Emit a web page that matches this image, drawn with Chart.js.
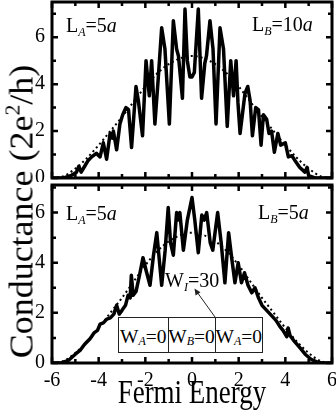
<!DOCTYPE html>
<html>
<head>
<meta charset="utf-8">
<title>Conductance vs Fermi Energy</title>
<script src="https://cdn.jsdelivr.net/npm/chart.js@4.4.1/dist/chart.umd.min.js"></script>
<style>
  body { margin:0; width:336px; height:415px; position:relative; background:#fff; overflow:hidden;
         font-family:'Liberation Serif', 'Times New Roman', serif; color:#000; }
  canvas { position:absolute; left:0; }
  #c1 { top:0; }
  #c2 { top:181px; }
  .lab { position:absolute; font-size:20px; line-height:1; white-space:nowrap; }
  .s { font-size:12px; font-style:italic; position:relative; top:4px; }
  #ytitle { position:absolute; left:-128px; top:195px; width:300px; height:33px; font-size:33px; line-height:1;
            text-align:center; white-space:nowrap; transform:rotate(-90deg) scale(1.09,1); }
  #ytitle sup { font-size:20px; vertical-align:baseline; position:relative; top:-13px; }
  #xtitle { position:absolute; left:42px; top:379px; width:300px; font-size:27px; line-height:1;
            text-align:center; white-space:nowrap; transform:scale(1,1.22); }
  #box { position:absolute; left:118px; top:317px; width:145px; height:36px; border:1.5px solid #222;
         box-sizing:border-box; display:flex; background:#fff; }
  #box div { display:flex; align-items:center; justify-content:center; padding-top:4px; box-sizing:border-box;
             font-size:19.5px; line-height:1; white-space:nowrap; }
  #box div + div { border-left:1.5px solid #222; }
  #arrow { position:absolute; left:0; top:0; }
</style>
</head>
<body>

<canvas id="c1" width="346" height="182"></canvas>
<canvas id="c2" width="346" height="234"></canvas>

<!-- labels -->
<div id="ytitle">Conductance (2e<sup>2</sup>/h)</div>
<div id="xtitle">Fermi Energy</div>

<div class="lab" style="left:66px; top:15px;">L<span class="s">A</span>=5<i>a</i></div>
<div class="lab" style="left:252px; top:14px;">L<span class="s">B</span>=10<i>a</i></div>
<div class="lab" style="left:66px; top:203px;">L<span class="s">A</span>=5<i>a</i></div>
<div class="lab" style="left:258px; top:202px;">L<span class="s">B</span>=5<i>a</i></div>
<div class="lab" style="left:165px; top:270px;">W<span class="s">I</span>=30</div>

<svg id="arrow" width="336" height="415">
  <line x1="215" y1="317" x2="197" y2="292" stroke="#222" stroke-width="1"/>
  <polygon points="194.5,288.5 200.5,292.3 195.6,295.4" fill="#222"/>
</svg>

<div id="box">
  <div style="width:50px">W<span class="s">A</span>=0</div>
  <div style="width:47px">W<span class="s">B</span>=0</div>
  <div style="width:48px">W<span class="s">A</span>=0</div>
</div>

<script>
// top panel, L_B = 10a
const topE = [-6.0,-5.5,-5.2,-4.95,-4.85,-4.75,-4.6,-4.45,-4.3,-4.1,-3.94,-3.8,-3.66,-3.51,-3.42,-3.37,-3.23,-3.09,-2.97,-2.83,-2.72,-2.59,-2.4,-2.3,-2.12,-1.97,-1.83,-1.73,-1.59,-1.45,-1.3,-1.16,-0.97,-0.8,-0.66,-0.58,-0.41,-0.3,-0.2,-0.09,0,0.1,0.27,0.41,0.55,0.62,0.77,0.9,1.03,1.2,1.35,1.51,1.66,1.78,1.89,1.97,2.06,2.27,2.39,2.49,2.59,2.73,2.85,2.96,3.06,3.2,3.3,3.41,3.53,3.68,3.8,4.0,4.13,4.28,4.41,4.62,4.84,4.93,5.0,5.27,6.0];
const topG = [0,0,0.1,0.25,0.5,0.25,0.5,0.75,0.9,1.05,0.9,1.5,0.8,1.9,1.7,2.0,1.2,2.3,2.7,3.0,2.9,1.3,3.9,3.3,1.8,5.0,3.5,5.0,2.3,4.2,6.4,5.5,2.3,6.7,5.5,5.2,3.4,7.2,5.0,4.3,4.3,4.5,7.2,3.4,4.9,5.2,6.7,5.5,2.3,6.4,5.5,2.2,5.0,3.5,5.0,3.2,1.9,3.6,3.9,3.3,1.8,3.0,2.9,1.4,2.7,2.5,1.9,2.0,1.1,1.9,1.4,1.5,0.9,0.95,0.75,0.45,0.25,0.45,0.1,0,0];

// bottom panel, L_B = 5a
const botE = [-6,-5.6,-5.3,-5.0,-4.8,-4.6,-4.37,-4.2,-4.05,-3.94,-3.8,-3.65,-3.5,-3.35,-3.23,-3.12,-3.0,-2.85,-2.74,-2.65,-2.6,-2.52,-2.4,-2.25,-2.1,-1.97,-1.8,-1.65,-1.51,-1.4,-1.3,-1.15,-1.02,-0.92,-0.8,-0.66,-0.6,-0.52,-0.37,-0.2,0,0.12,0.27,0.42,0.52,0.63,0.78,0.89,1.1,1.25,1.41,1.57,1.7,1.84,1.98,2.12,2.25,2.4,2.56,2.7,2.85,3.0,3.2,3.4,3.6,3.77,3.9,4.06,4.12,4.2,4.4,4.63,4.85,5.1,5.4,5.6,6];
const botG = [0,0,0.1,0.35,0.5,0.75,0.97,1.2,1.3,1.55,1.6,1.75,1.8,1.95,2.3,1.95,2.1,2.3,2.7,2.6,3.5,2.7,2.85,3.5,4.2,3.7,3.1,4.3,5.2,4.1,3.1,4.5,6.2,4.8,4.3,6.0,5.7,6.0,4.5,5.7,6.6,5.7,4.4,5.9,5.7,6.0,4.8,4.5,6.0,4.8,3.2,5.2,4.2,3.2,4.0,3.2,3.6,3.1,2.8,3.0,2.6,2.3,2.1,1.9,1.7,1.45,1.3,1.05,1.4,1.1,0.85,0.6,0.35,0.15,0.03,0,0];

// dotted (averaged) curve, same in both panels
const avgE = [-6,-5.5,-5,-4.5,-4,-3.5,-3,-2.5,-2,-1.5,-1,-0.5,0,0.5,1,1.5,2,2.5,3,3.5,4,4.5,5,5.5,6];
const avgG = [0,0.08,0.4,0.85,1.4,2.0,2.6,3.25,3.9,4.45,4.85,5.1,5.2,5.1,4.85,4.45,3.9,3.25,2.6,2.0,1.4,0.85,0.4,0.08,0];

const xTicks = [-6,-4,-2,0,2,4,6];
const yTicks = [0,2,4,6];

const pts = (xs, ys) => xs.map((x, i) => ({x: x, y: ys[i]}));
const tickFont = {family: "'Liberation Serif', serif", size: 20};

// thick frame with inward ticks on all four sides
const framePlugin = {
  id: 'frame',
  afterDatasetsDraw(chart) {
    const c = chart.ctx, a = chart.chartArea, xs = chart.scales.x, ys = chart.scales.y;
    c.save();
    c.strokeStyle = '#000';
    c.lineWidth = 2.5;
    c.beginPath();
    for (let v = Math.ceil(xs.min); v <= xs.max; v++) {
      const p = xs.getPixelForValue(v), l = v % 2 === 0 ? 6 : 4;
      c.moveTo(p, a.bottom); c.lineTo(p, a.bottom - l);
      c.moveTo(p, a.top); c.lineTo(p, a.top + l);
    }
    for (let v = Math.ceil(ys.min); v <= ys.max; v++) {
      const p = ys.getPixelForValue(v), l = v % 2 === 0 ? 6 : 4;
      c.moveTo(a.left, p); c.lineTo(a.left + l, p);
      c.moveTo(a.right, p); c.lineTo(a.right - l, p);
    }
    c.stroke();
    c.lineWidth = 3;
    c.strokeRect(a.left, a.top, a.right - a.left, a.bottom - a.top);
    c.restore();
  }
};

function makeChart(id, solid, yMax, showX, pad) {
  return new Chart(document.getElementById(id), {
    type: 'line',
    data: {
      datasets: [
        {data: pts(avgE, avgG), borderColor: '#000', borderWidth: 2, borderDash: [2, 3],
         pointRadius: 0, cubicInterpolationMode: 'monotone'},
        {data: solid, borderColor: '#000', borderWidth: 3.5, pointRadius: 0, tension: 0,
         borderJoinStyle: 'round'}
      ]
    },
    options: {
      responsive: false,
      animation: false,
      layout: {padding: pad},
      plugins: {legend: {display: false}, tooltip: {enabled: false}},
      scales: {
        x: {
          type: 'linear', min: -6, max: 6, display: showX,
          afterFit(s) { if (showX) s.height = 52; s.paddingLeft = 0; s.paddingRight = 0; },
          grid: {display: false, drawTicks: false, tickLength: 0},
          border: {display: false},
          afterBuildTicks(s) { s.ticks = xTicks.map(v => ({value: v})); },
          ticks: {padding: 6, color: '#000', font: tickFont, autoSkip: false, maxRotation: 0}
        },
        y: {
          min: 0, max: yMax,
          afterFit(s) { s.width = 52; s.paddingTop = 0; s.paddingBottom = 0; },
          grid: {display: false, drawTicks: false, tickLength: 0},
          border: {display: false},
          afterBuildTicks(s) { s.ticks = yTicks.map(v => ({value: v})); },
          ticks: {padding: 7, color: '#000', font: tickFont, autoSkip: false}
        }
      }
    },
    plugins: [framePlugin]
  });
}

makeChart('c1', pts(topE, topG), 7.5, false, {left: 0, right: 14, top: 2, bottom: 4});
makeChart('c2', pts(botE, botG), 7.1, true, {left: 0, right: 14, top: 4, bottom: 0});
</script>
</body>
</html>
